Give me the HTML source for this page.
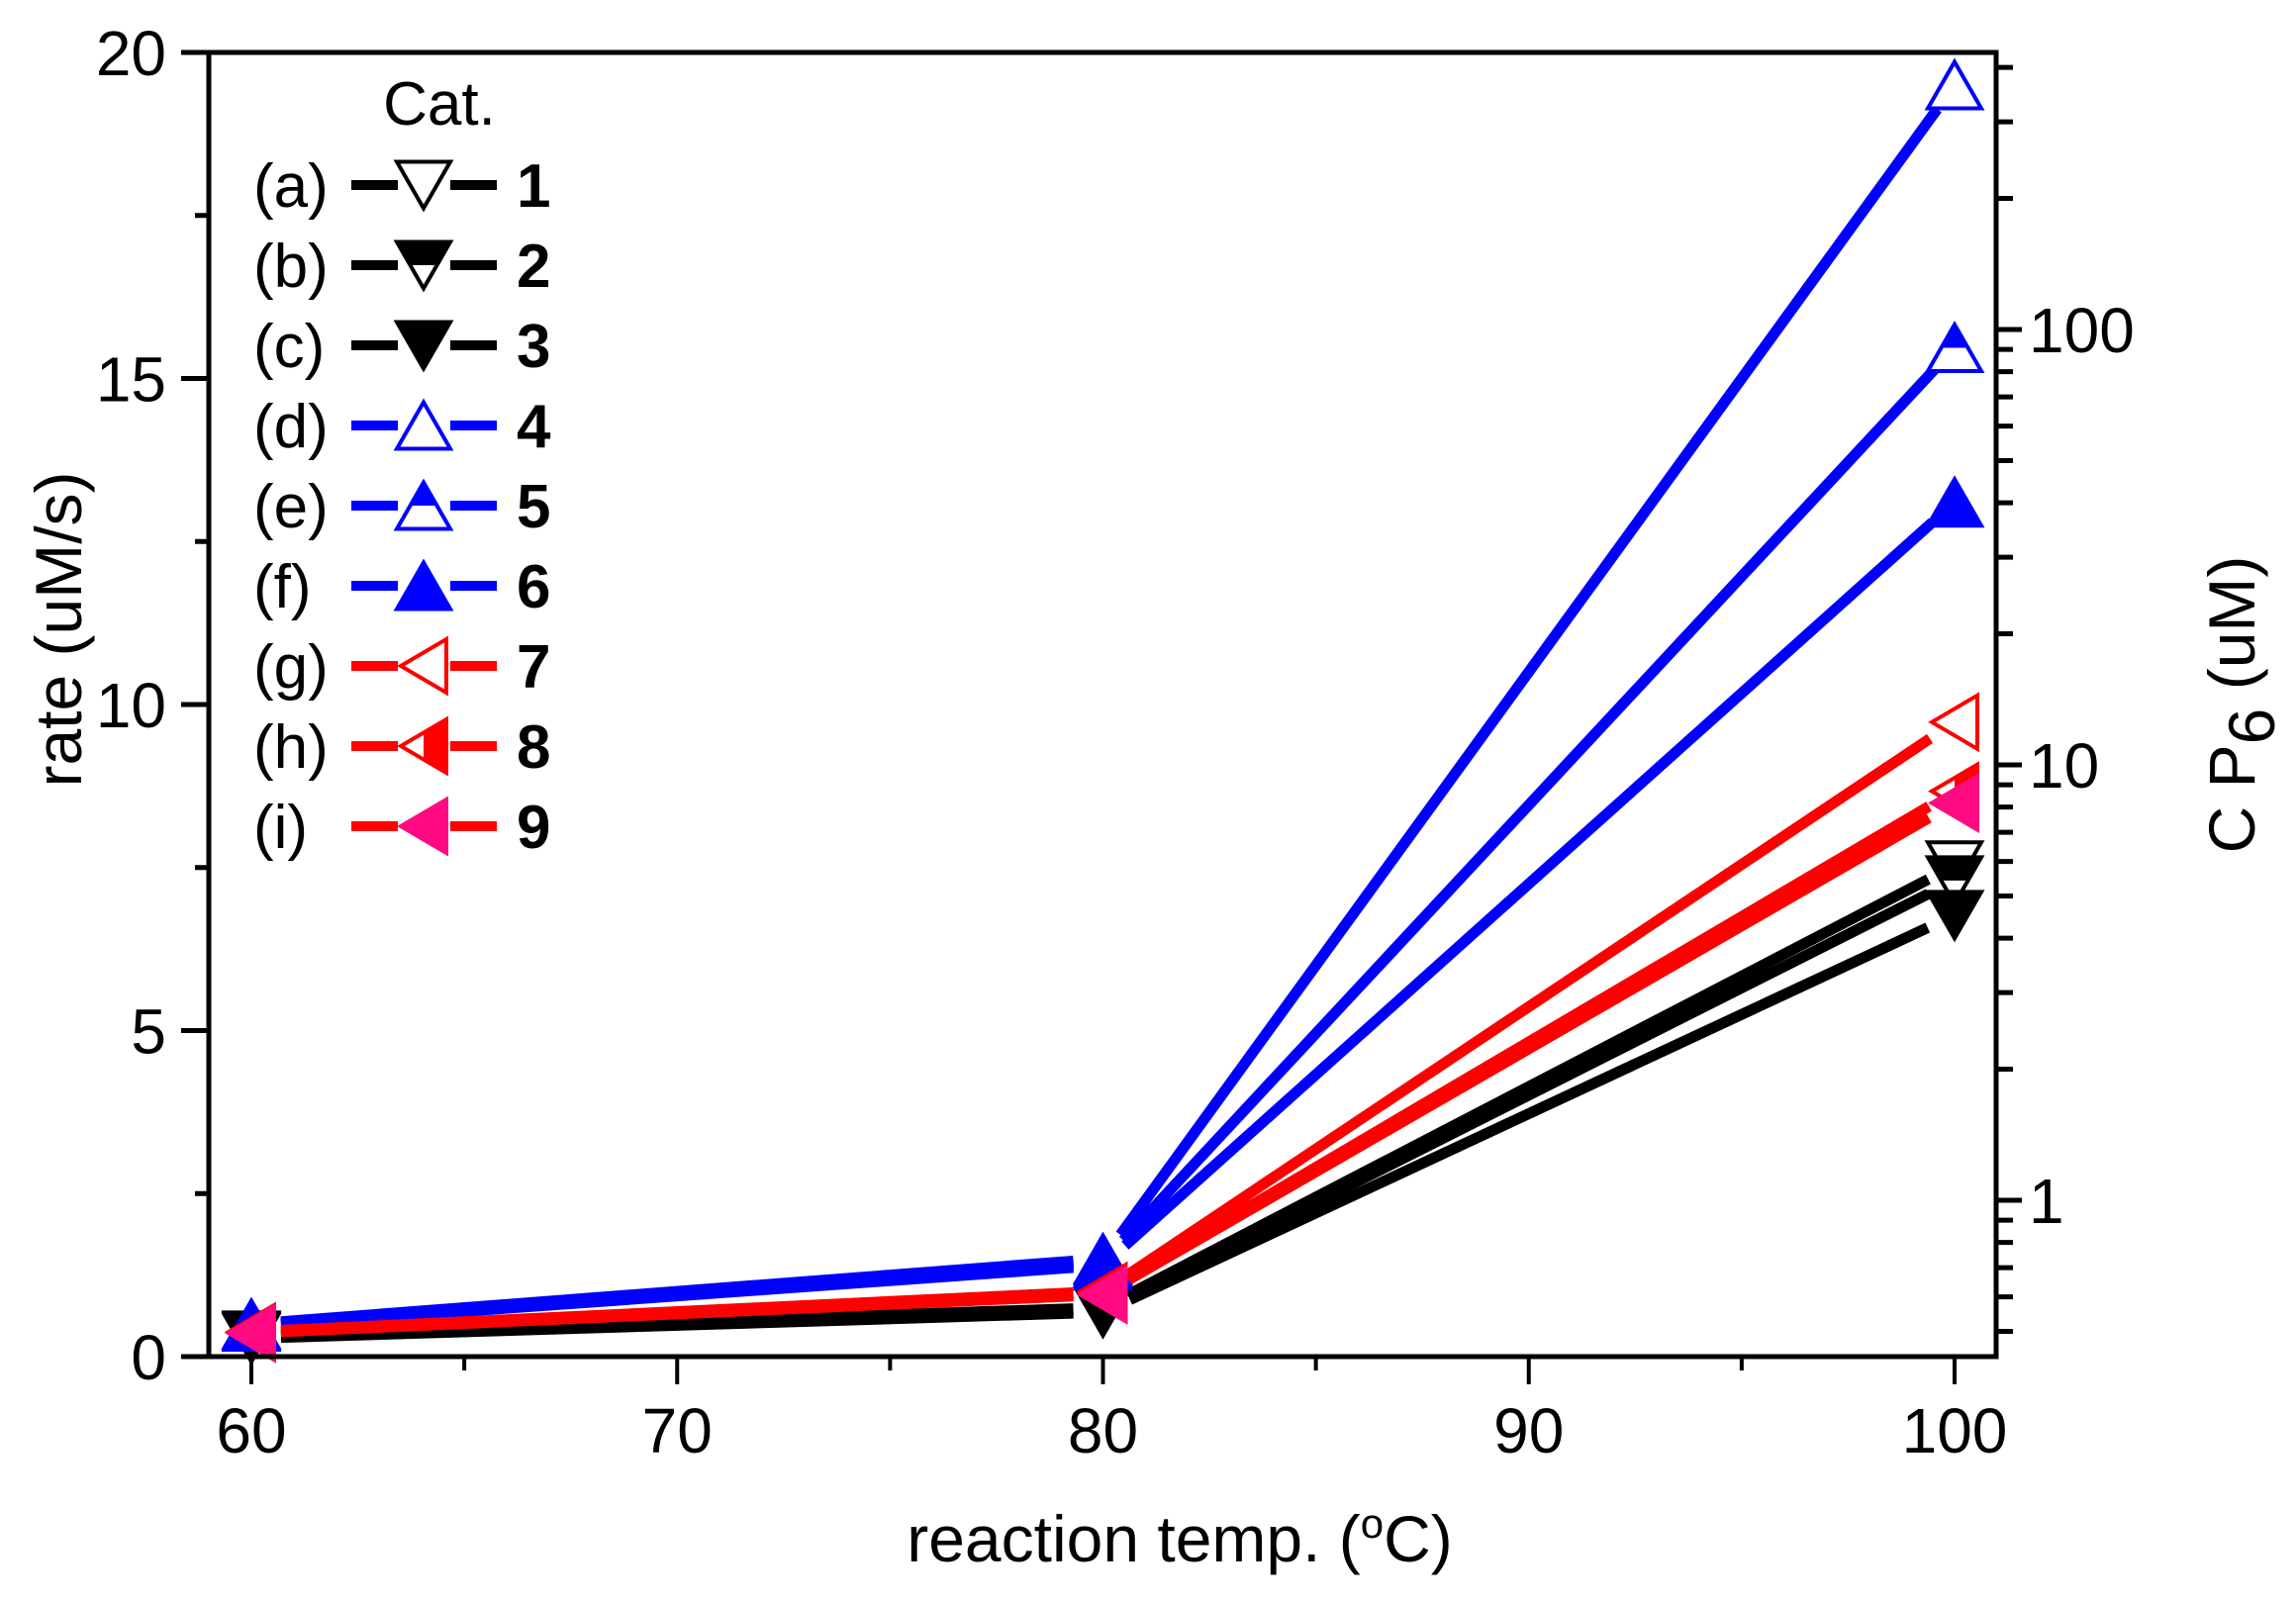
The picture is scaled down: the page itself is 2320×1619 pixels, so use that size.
<!DOCTYPE html>
<html><head><meta charset="utf-8"><style>
html,body{margin:0;padding:0;background:#fff;}
svg{display:block;font-family:"Liberation Sans",sans-serif;}
</style></head><body>
<svg id="chart" width="2320" height="1619" viewBox="0 0 2320 1619" xmlns="http://www.w3.org/2000/svg">
<g id="plot"></g>
<g id="axes"></g>
<g id="legend"></g>
</svg>
<script>
const temps = [60, 80, 100];
const seriesNames = ["1","2","3","4","5","6","7","8","9"];
const legendLetters = ["(a)","(b)","(c)","(d)","(e)","(f)","(g)","(h)","(i)"];
const s1 = [0.32, 0.75, 7.53];
const s2 = [0.30, 0.72, 7.30];
const s3 = [0.28, 0.68, 6.77];
const s4 = [0.50, 1.50, 19.5];
const s5 = [0.48, 1.45, 15.47];
const s6 = [0.46, 1.40, 13.1];
const s7 = [0.38, 1.00, 9.73];
const s8 = [0.37, 0.98, 8.67];
const s9 = [0.36, 0.95, 8.49];
const xTicks = [60, 70, 80, 90, 100];
const yTicks = [0, 5, 10, 15, 20];
const rightTicks = [1, 10, 100];

const NS = "http://www.w3.org/2000/svg";
const L = 211, R = 2017, T = 53, B = 1371;
const xScale = v => 254 + (v - 60) * (1975 - 254) / 40;
const yScale = v => B - v * (B - T) / 20;
const yLog = v => 1213 - Math.log10(v) * 440;

function mk(tag, attrs, parent) {
  const e = document.createElementNS(NS, tag);
  for (const k in attrs) e.setAttribute(k, attrs[k]);
  parent.appendChild(e);
  return e;
}
const plot = document.getElementById('plot');
const axes = document.getElementById('axes');
const legend = document.getElementById('legend');

const seriesData = [s1,s2,s3,s4,s5,s6,s7,s8,s9];
const lineColors = ["#000","#000","#000","#0000ff","#0000ff","#0000ff","#ff0000","#ff0000","#ff0000"];
const markColors = ["#000","#000","#000","#0000ff","#0000ff","#0000ff","#ff0000","#ff0000","#ff0a80"];
const shapes = ["down","down","down","up","up","up","left","left","left"];
const fills = ["open","half","full","open","half","full","open","half","full"];

function marker(parent, shape, fill, color, cx, cy, w, h) {
  let pts;
  if (shape === "down") pts = [[cx-w/2,cy-h/2],[cx+w/2,cy-h/2],[cx,cy+h/2]];
  else if (shape === "up") pts = [[cx,cy-h/2],[cx+w/2,cy+h/2],[cx-w/2,cy+h/2]];
  else pts = [[cx-w/2,cy],[cx+w/2,cy-h/2],[cx+w/2,cy+h/2]];
  const g = mk('g', {}, parent);
  mk('polygon', {points: pts.map(p=>p.join(',')).join(' '), fill: fill==="full"?color:"#fff", stroke: color, 'stroke-width': 4, 'stroke-linejoin':'miter'}, g);
  if (fill === "half") {
    let hp;
    if (shape === "down") hp = [[cx-w/2,cy-h/2],[cx+w/2,cy-h/2],[cx+w/4,cy],[cx-w/4,cy]];
    else if (shape === "up") hp = [[cx,cy-h/2],[cx+w/4,cy],[cx-w/4,cy]];
    else hp = [[cx,cy-h/4],[cx+w/2,cy-h/2],[cx+w/2,cy+h/2],[cx,cy+h/4]];
    mk('polygon', {points: hp.map(p=>p.join(',')).join(' '), fill: color}, g);
  }
  return g;
}
function dims(shape){ return shape==="left" ? [46,54] : [54,47]; }

seriesData.forEach((d, i) => {
  const g = mk('g', {}, plot);
  
  
  const pts = d.map((v, j) => [xScale(temps[j]), yScale(v)]);
  for (let j = 0; j < pts.length - 1; j++) {
    const [x1,y1] = pts[j], [x2,y2] = pts[j+1];
    const dx = x2-x1, dy = y2-y1, len = Math.hypot(dx,dy), gap = 30;
    const ln = mk('line', {x1: x1+dx/len*gap, y1: y1+dy/len*gap, x2: x2-dx/len*gap, y2: y2-dy/len*gap, stroke: lineColors[i], 'stroke-width': 11}, g);
    
    
  }
  pts.forEach(p => {
    const [w,h] = dims(shapes[i]);
    const m = marker(g, shapes[i], fills[i], markColors[i], p[0], p[1], w, h);
    
    
  });
});

const frame = mk('rect', {x: L, y: T, width: R-L, height: B-T, fill: 'none', stroke: '#000', 'stroke-width': 5}, axes);



for (let v = 60; v <= 100; v += 5) {
  const major = v % 10 === 0;
  mk('line', {x1: xScale(v), x2: xScale(v), y1: B, y2: B + (major ? 28 : 14), stroke: '#000', 'stroke-width': 4}, axes);
}
xTicks.forEach(v => {
  const t = mk('text', {x: xScale(v), y: 1468, 'font-size': 64, 'text-anchor': 'middle'}, axes);
  t.textContent = v;
  
  
});
for (let v = 0; v <= 20; v += 2.5) {
  const major = v % 5 === 0;
  mk('line', {x1: L - (major ? 28 : 14), x2: L, y1: yScale(v), y2: yScale(v), stroke: '#000', 'stroke-width': 5}, axes);
}
yTicks.forEach(v => {
  const t = mk('text', {x: 168, y: yScale(v) + 23, 'font-size': 64, 'text-anchor': 'end'}, axes);
  t.textContent = v;
  
  
});
[1,10,100].forEach(dec => {
  for (let k = 1; k <= 9; k++) {
    const v = dec * k;
    const y = yLog(v);
    if (y < T || y > B) continue;
    mk('line', {x1: R, x2: R + (k === 1 ? 26 : 17), y1: y, y2: y, stroke: '#000', 'stroke-width': 5}, axes);
  }
});
[0.5,0.6,0.7,0.8,0.9].forEach(v => {
  const y = yLog(v); if (y <= B) mk('line', {x1: R, x2: R + 17, y1: y, y2: y, stroke: '#000', 'stroke-width': 5}, axes);
});
rightTicks.forEach(v => {
  const t = mk('text', {x: 2050, y: yLog(v) + 23, 'font-size': 64, 'text-anchor': 'start'}, axes);
  t.textContent = v;
  
  
});

const xt = mk('text', {x: 1192, y: 1578, 'font-size': 66, 'text-anchor': 'middle'}, axes);


xt.innerHTML = 'reaction temp. (<tspan font-size="42" dy="-24">o</tspan><tspan dy="24">C)</tspan>';
const yt = mk('text', {x: 0, y: 0, 'font-size': 66, 'text-anchor': 'middle', transform: 'translate(82,636) rotate(-90)'}, axes);


yt.textContent = 'rate (uM/s)';
const rt = mk('text', {x: 0, y: 0, 'font-size': 66, 'text-anchor': 'middle', transform: 'translate(2278,712) rotate(-90)'}, axes);


rt.innerHTML = 'C P<tspan dy="20">6</tspan><tspan dy="-20"> (uM)</tspan>';

const cat = mk('text', {x: 444, y: 126, 'font-size': 62, 'text-anchor': 'middle'}, legend);


cat.textContent = 'Cat.';
seriesNames.forEach((n, i) => {
  const y = 187 + i * 81;
  const g = mk('g', {}, legend);
  
  
  const lt = mk('text', {x: 256, y: y + 22, 'font-size': 62}, g);
  lt.textContent = legendLetters[i];
  mk('line', {x1: 355, x2: 402, y1: y, y2: y, stroke: lineColors[i], 'stroke-width': 10}, g);
  mk('line', {x1: 455, x2: 502, y1: y, y2: y, stroke: lineColors[i], 'stroke-width': 10}, g);
  const [w,h] = dims(shapes[i]);
  marker(g, shapes[i], fills[i], markColors[i], 428, y, w, h);
  const nt = mk('text', {x: 522, y: y + 22, 'font-size': 62, 'font-weight': 'bold'}, g);
  nt.textContent = n;
});
</script>
</body></html>
